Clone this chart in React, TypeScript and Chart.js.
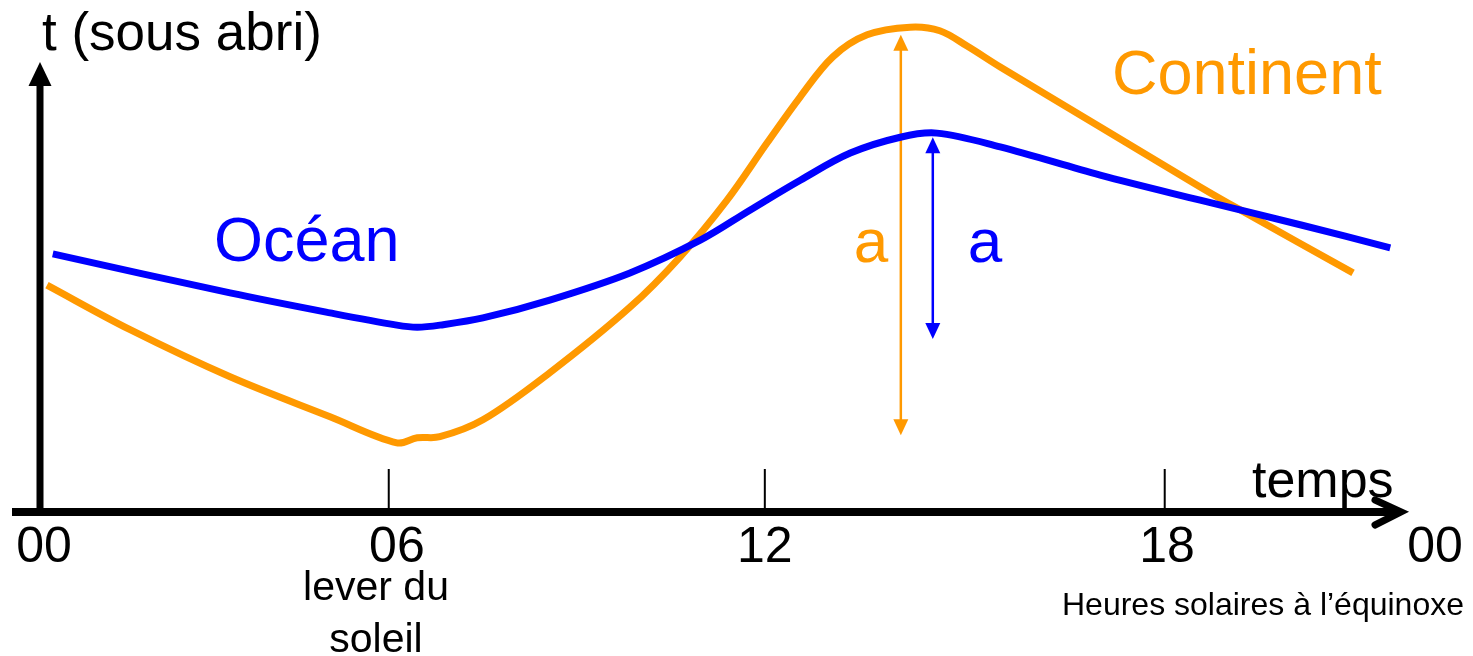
import React, { useEffect, useRef } from "react";
import { Chart, registerables } from "chart.js";

Chart.register(...registerables);

// Horizontal unit: solar hours; vertical unit: relative temperature (arbitrary)
const oceanHours = [0.22, 3.27, 4.99, 6.14, 6.49, 6.88, 7.62, 8.77, 10.15, 11.36, 12.22, 13.08, 13.94, 14.8, 15.43, 16.52, 18.24, 19.96, 21.68, 23.23];
const oceanTemps = [50.4, 42.8, 38.9, 36.5, 36.1, 36.5, 37.9, 41.4, 46.7, 53.1, 59.0, 64.8, 70.1, 73.2, 74.0, 71.3, 65.8, 60.9, 56.1, 51.6];

const continentHours = [0.12, 1.55, 3.27, 4.99, 6.14, 6.49, 6.88, 7.62, 8.77, 10.15, 11.01, 11.82, 12.51, 13.08, 13.64, 14.23, 14.97, 15.48, 15.95, 16.52, 18.24, 19.96, 20.65, 22.59];
const continentTemps = [44.3, 35.6, 26.4, 18.6, 13.5, 14.5, 14.7, 18.0, 27.2, 40.0, 49.8, 60.9, 72.1, 81.1, 88.9, 93.2, 94.7, 94.0, 91.0, 86.9, 75.2, 63.5, 59.0, 46.7];

// tick marks on the time axis and their labels
const tickHours = [6.0, 12.47, 19.35];
const tickLabels = ["00", "06", "12", "18", "00"];
const tickLabelHours = [0.07, 6.14, 12.47, 19.39, 24];

// amplitude arrows "a": [continent, ocean]
const ampHours = [14.81, 15.36];
const ampLows = [15.0, 33.8];
const ampHighs = [93.2, 73.2];

const ORANGE = "#ff9900";
const BLUE = "#0000ff";
const FONT = '"Liberation Sans", Arial, Helvetica, sans-serif';

function doubleArrow(ctx: CanvasRenderingContext2D, px: number, top: number, bot: number, color: string) {
  const len = 16;
  const hw = 7.5;
  ctx.strokeStyle = color;
  ctx.fillStyle = color;
  ctx.lineWidth = 2.5;
  ctx.beginPath();
  ctx.moveTo(px, top + len - 1);
  ctx.lineTo(px, bot - len + 1);
  ctx.stroke();
  ctx.beginPath();
  ctx.moveTo(px, top);
  ctx.lineTo(px - hw, top + len);
  ctx.lineTo(px + hw, top + len);
  ctx.closePath();
  ctx.fill();
  ctx.beginPath();
  ctx.moveTo(px, bot);
  ctx.lineTo(px - hw, bot - len);
  ctx.lineTo(px + hw, bot - len);
  ctx.closePath();
  ctx.fill();
}

const diagramPlugin = {
  id: "diagram",
  beforeDatasetsDraw(chart: any) {
    const { ctx } = chart;
    const xs = chart.scales.x;
    const ys = chart.scales.y;
    const x0 = xs.getPixelForValue(0);
    const y0 = ys.getPixelForValue(0);
    ctx.save();

    // vertical axis
    ctx.fillStyle = "#000";
    ctx.fillRect(x0 - 3.5, 84, 7, y0 + 4 - 84);
    ctx.beginPath();
    ctx.moveTo(x0, 62);
    ctx.lineTo(x0 - 11.5, 86);
    ctx.lineTo(x0 + 11.5, 86);
    ctx.closePath();
    ctx.fill();

    // horizontal axis
    ctx.fillRect(12, y0 - 4, 1386, 8);
    ctx.strokeStyle = "#000";
    ctx.lineWidth = 7;
    ctx.lineCap = "round";
    ctx.lineJoin = "miter";
    ctx.beginPath();
    ctx.moveTo(1375, 500);
    ctx.lineTo(1401, y0);
    ctx.lineTo(1375, 525);
    ctx.stroke();

    // tick marks
    tickHours.forEach((h) => {
      const px = xs.getPixelForValue(h);
      ctx.fillRect(px - 1, 469, 2, y0 - 469);
    });

    // tick labels
    ctx.fillStyle = "#000";
    ctx.textAlign = "center";
    ctx.textBaseline = "alphabetic";
    ctx.font = `50px ${FONT}`;
    tickLabels.forEach((t, i) => {
      ctx.fillText(t, xs.getPixelForValue(tickLabelHours[i]), 562);
    });

    ctx.font = `41px ${FONT}`;
    ctx.fillText("lever du", 376, 600);
    ctx.fillText("soleil", 376, 652);

    ctx.textAlign = "right";
    ctx.font = `32px ${FONT}`;
    ctx.fillText("Heures solaires \u00e0 l\u2019\u00e9quinoxe", 1464, 615);

    ctx.textAlign = "left";
    ctx.font = `52px ${FONT}`;
    ctx.fillText("temps", 1252, 497);
    ctx.font = `53px ${FONT}`;
    ctx.fillText("t (sous abri)", 42, 50);

    ctx.font = `63px ${FONT}`;
    ctx.fillStyle = BLUE;
    ctx.fillText("Oc\u00e9an", 214, 261);
    ctx.fillStyle = ORANGE;
    ctx.fillText("Continent", 1112, 94);

    ctx.textAlign = "center";
    ctx.font = `62px ${FONT}`;
    ctx.fillStyle = ORANGE;
    ctx.fillText("a", 871, 262);
    ctx.fillStyle = BLUE;
    ctx.fillText("a", 985, 262);

    // amplitude arrows
    const colors = [ORANGE, BLUE];
    ampHours.forEach((h, i) => {
      doubleArrow(ctx, xs.getPixelForValue(h), ys.getPixelForValue(ampHighs[i]), ys.getPixelForValue(ampLows[i]), colors[i]);
    });

    ctx.restore();
  },
};

export default function App() {
  const ref = useRef<HTMLCanvasElement | null>(null);

  useEffect(() => {
    document.body.style.margin = "0";
    const canvas = ref.current;
    if (!canvas) return;
    const chart = new Chart(canvas, {
      type: "line",
      data: {
        datasets: [
          {
            label: "Océan",
            data: oceanHours.map((h, i) => ({ x: h, y: oceanTemps[i] })),
            borderColor: BLUE,
            borderWidth: 7,
            pointRadius: 0,
            tension: 0.35,
            borderCapStyle: "butt",
            clip: false,
          } as any,
          {
            label: "Continent",
            data: continentHours.map((h, i) => ({ x: h, y: continentTemps[i] })),
            borderColor: ORANGE,
            borderWidth: 7,
            pointRadius: 0,
            tension: 0.35,
            borderCapStyle: "butt",
            clip: false,
          } as any,
        ],
      },
      options: {
        responsive: false,
        animation: false,
        events: [],
        layout: { padding: { left: 40, right: 38, top: 0, bottom: 144 } },
        plugins: { legend: { display: false }, tooltip: { enabled: false } },
        scales: {
          x: { type: "linear", min: 0, max: 24, display: false },
          y: { type: "linear", min: 0, max: 100, display: false },
        },
      },
      plugins: [diagramPlugin],
    });
    return () => chart.destroy();
  }, []);

  return (
    <div style={{ width: 1473, height: 656, background: "#fff" }}>
      <canvas ref={ref} width={1473} height={656} style={{ display: "block" }} />
    </div>
  );
}
